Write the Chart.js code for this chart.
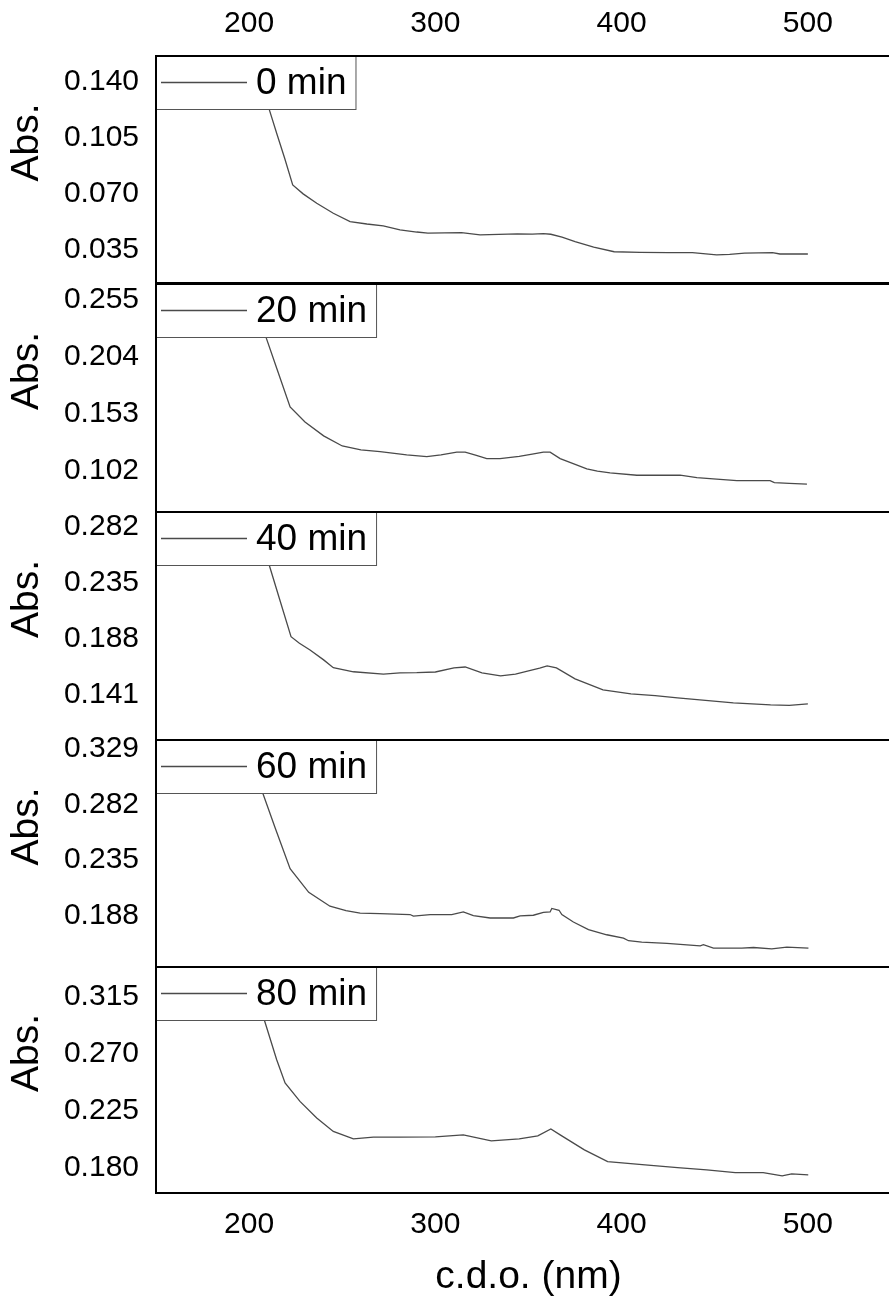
<!DOCTYPE html>
<html><head><meta charset="utf-8">
<script src="https://cdn.jsdelivr.net/npm/chart.js@4.4.1/dist/chart.umd.min.js"></script>
<style>
html,body{margin:0;padding:0;width:889px;height:1301px;overflow:hidden;background:#fff;}
#wrap{position:relative;width:889px;height:1301px;overflow:hidden;}
#wrap canvas{position:absolute;left:0;}
</style></head><body><div id="wrap"></div>
<script>
// ---- data ----
const seriesLabels = ['0 min', '20 min', '40 min', '60 min', '80 min'];
const xTicks = [200, 300, 400, 500];
const xRange = [150, 550];

const nm0  = [200, 205, 210.7, 215, 219, 223.4, 229, 236.3, 245.2, 254.2, 263.2, 272, 281, 290, 296, 305, 314, 324, 334, 344, 352, 358, 362, 368, 375, 385, 396, 410, 425, 438, 451, 458, 466, 481, 485, 492, 500];
const abs0 = [0.163, 0.144, 0.123, 0.107, 0.0925, 0.0756, 0.0700, 0.0641, 0.0579, 0.0527, 0.0512, 0.0500, 0.0475, 0.0462, 0.0455, 0.0457, 0.0458, 0.0444, 0.0447, 0.0450, 0.0449, 0.0452, 0.0448, 0.0430, 0.0402, 0.0368, 0.0339, 0.0335, 0.0334, 0.0333, 0.0319, 0.0322, 0.0330, 0.0333, 0.0325, 0.0326, 0.0325];

const nm20  = [200, 205, 209, 215, 222, 230, 240, 250, 260, 270.3, 284.6, 295.4, 303, 311.5, 316, 322, 327.6, 334.7, 345, 352, 358, 361.6, 367, 374, 381.3, 387, 393.8, 408.2, 420, 431.4, 440.4, 451, 461.9, 479.7, 482, 490, 499.5];
const abs20 = [0.266, 0.244, 0.222, 0.193, 0.1593, 0.1459, 0.1334, 0.1244, 0.1208, 0.1193, 0.1164, 0.1148, 0.1165, 0.1188, 0.1188, 0.1160, 0.1131, 0.1131, 0.1150, 0.1170, 0.1188, 0.1188, 0.1131, 0.1085, 0.1038, 0.1018, 0.1003, 0.0982, 0.0982, 0.0982, 0.0961, 0.0948, 0.0934, 0.0934, 0.0916, 0.0910, 0.0902];

const nm40  = [200, 205, 210.9, 216, 222.5, 227, 232.7, 240, 245.2, 256, 272.1, 281, 290, 300, 310, 316, 325, 335, 343, 350, 356, 360, 365, 375, 390, 405, 418, 430, 445, 460, 480, 490, 500];
const abs40 = [0.305, 0.2796, 0.2492, 0.2229, 0.1895, 0.1840, 0.1783, 0.1700, 0.1634, 0.1600, 0.1581, 0.1590, 0.1592, 0.1598, 0.1632, 0.1640, 0.1590, 0.1565, 0.1580, 0.1607, 0.1630, 0.1649, 0.1632, 0.1540, 0.1447, 0.1414, 0.1400, 0.1380, 0.1360, 0.1338, 0.1322, 0.1318, 0.1330];

const nm60  = [200, 207.3, 214, 222, 232, 243.4, 252, 259.6, 270.3, 286.4, 288.2, 297.2, 308.8, 315, 320.4, 329.4, 341.9, 345.5, 352.6, 358, 361.6, 362.5, 366.4, 367.9, 374.1, 382.2, 392, 401, 403.7, 410.8, 424.3, 442.2, 443.9, 449.3, 464.5, 470.8, 480.6, 488.7, 500.3];
const abs60 = [0.323, 0.2914, 0.262, 0.2278, 0.208, 0.1963, 0.1925, 0.1904, 0.1901, 0.1893, 0.1879, 0.1893, 0.1893, 0.1915, 0.1884, 0.1864, 0.1864, 0.1881, 0.1887, 0.1912, 0.1915, 0.1944, 0.1929, 0.1893, 0.1830, 0.1766, 0.1723, 0.1695, 0.1673, 0.1661, 0.1650, 0.1630, 0.1639, 0.1610, 0.1610, 0.1616, 0.1605, 0.1619, 0.1610];

const nm80  = [200, 208.2, 214.8, 219.3, 227.3, 236.3, 245.2, 256, 266.7, 281, 300, 315, 330, 345, 355, 362, 367, 380, 392.5, 412.6, 430, 445.7, 461, 476, 486.2, 491.3, 500.2];
const abs80 = [0.335, 0.2966, 0.2654, 0.2470, 0.2324, 0.2193, 0.2086, 0.2028, 0.2042, 0.2042, 0.2043, 0.2059, 0.2011, 0.2027, 0.2051, 0.2106, 0.2059, 0.1940, 0.1848, 0.1822, 0.1800, 0.1782, 0.1761, 0.1761, 0.1734, 0.1750, 0.1742];

const yTicks0  = [0.035, 0.070, 0.105, 0.140];
const yTicks20 = [0.102, 0.153, 0.204, 0.255];
const yTicks40 = [0.141, 0.188, 0.235, 0.282];
const yTicks60 = [0.188, 0.235, 0.282, 0.329];
const yTicks80 = [0.180, 0.225, 0.270, 0.315];

const yRange0  = [0.0144, 0.156];
const yRange20 = [0.0653, 0.2693];
const yRange40 = [0.1026, 0.2944];
const yRange60 = [0.1452, 0.336];
const yRange80 = [0.1599, 0.3388];

// ---- layout ----
const FONT = '"Liberation Sans", Arial, Helvetica, sans-serif';
const panelTop    = [56, 284, 512, 740, 967];
const panelBottom = [283, 512, 740, 967, 1193];
const CANVAS_W = 910;

const seriesX = [nm0, nm20, nm40, nm60, nm80];
const seriesY = [abs0, abs20, abs40, abs60, abs80];
const ticksY  = [yTicks0, yTicks20, yTicks40, yTicks60, yTicks80];
const rangesY = [yRange0, yRange20, yRange40, yRange60, yRange80];

const panelPlugin = {
  id: 'panelFrame',
  afterDatasetsDraw(chart) {
    const {ctx, chartArea: a} = chart;
    const ds = chart.data.datasets[0];
    ctx.save();
    // legend box
    ctx.font = '37px ' + FONT;
    const tw = ctx.measureText(ds.label).width;
    const bx = a.left, by = a.top, bw = 100 + tw + 9, bh = 53;
    ctx.fillStyle = '#fff';
    ctx.fillRect(bx, by, bw, bh);
    ctx.strokeStyle = '#555';
    ctx.lineWidth = 1;
    ctx.strokeRect(bx + 0.5, by + 0.5, bw, bh);
    ctx.strokeStyle = ds.borderColor;
    ctx.lineWidth = ds.borderWidth;
    ctx.beginPath();
    ctx.moveTo(bx + 5, by + 26.5);
    ctx.lineTo(bx + 91, by + 26.5);
    ctx.stroke();
    ctx.fillStyle = '#000';
    ctx.textBaseline = 'middle';
    ctx.textAlign = 'left';
    ctx.fillText(ds.label, bx + 100, by + 27.5);
    // frame
    ctx.strokeStyle = '#000';
    ctx.lineWidth = 2;
    ctx.strokeRect(a.left, a.top, a.right - a.left, a.bottom - a.top);
    ctx.restore();
  }
};

const wrap = document.getElementById('wrap');
for (let i = 0; i < 5; i++) {
  const first = i === 0, last = i === 4;
  const cTop = first ? 0 : panelTop[i] - 4;
  const cBot = last ? 1301 : panelBottom[i] + 4;
  const canvas = document.createElement('canvas');
  canvas.width = CANVAS_W;
  canvas.height = cBot - cTop;
  canvas.style.top = cTop + 'px';
  canvas.style.width = CANVAS_W + 'px';
  canvas.style.height = (cBot - cTop) + 'px';
  wrap.appendChild(canvas);

  const pts = seriesX[i].map((x, k) => ({x, y: seriesY[i][k]}));
  const yt = ticksY[i];
  const xAxisH = first ? panelTop[0] : (last ? 1301 - panelBottom[4] : 0);

  new Chart(canvas, {
    type: 'line',
    data: {
      datasets: [{
        label: seriesLabels[i],
        data: pts,
        borderColor: '#4a4a4a',
        borderWidth: 1.3,
        pointRadius: 0,
        tension: 0,
        fill: false
      }]
    },
    options: {
      responsive: false,
      animation: false,
      devicePixelRatio: 1,
      layout: {padding: {left: 0, right: 9, top: first ? 0 : 4, bottom: last ? 0 : 4}},
      plugins: {legend: {display: false}, tooltip: {enabled: false}},
      scales: {
        x: {
          type: 'linear',
          position: first ? 'top' : 'bottom',
          display: first || last,
          min: xRange[0], max: xRange[1],
          afterBuildTicks: s => { s.ticks = xTicks.map(v => ({value: v})); },
          afterFit: s => { s.height = xAxisH; s.paddingLeft = 0; s.paddingRight = 0; },
          grid: {display: false, drawTicks: false},
          border: {display: false},
          ticks: {
            autoSkip: false, maxRotation: 0, padding: 14,
            color: '#000', font: {family: FONT, size: 30},
            callback: v => String(v)
          },
          title: {
            display: last, text: 'c.d.o. (nm)', color: '#000',
            font: {family: FONT, size: 39}, padding: {top: 0, bottom: 0}
          }
        },
        y: {
          type: 'linear',
          position: 'left',
          min: rangesY[i][0], max: rangesY[i][1],
          afterBuildTicks: s => { s.ticks = yt.map(v => ({value: v})); },
          afterFit: s => { s.width = 156; s.paddingTop = 0; s.paddingBottom = 0; },
          grid: {display: false, drawTicks: false},
          border: {display: false},
          ticks: {
            autoSkip: false, padding: 17,
            color: '#000', font: {family: FONT, size: 30},
            callback: v => Number(v).toFixed(3)
          },
          title: {
            display: true, text: '     Abs.', color: '#000',
            font: {family: FONT, size: 39}, padding: {top: 4, bottom: 0}
          }
        }
      }
    },
    plugins: [panelPlugin]
  });
}
</script>
</body></html>
